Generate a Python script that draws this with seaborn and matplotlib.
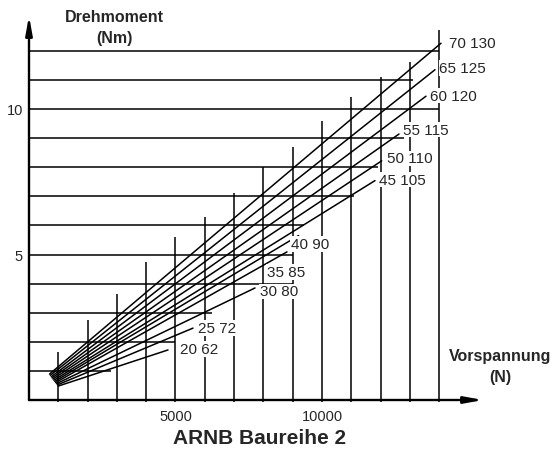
import matplotlib
matplotlib.use("Agg")
import matplotlib.pyplot as plt
import seaborn as sns
import pandas as pd

# ---------------- data ----------------
series = ["20 62", "25 72", "30 80", "35 85", "40 90", "45 105",
          "50 110", "55 115", "60 120", "65 125", "70 130"]
start_x = [1000, 970, 940, 910, 880, 850, 820, 790, 760, 730, 700]
start_y = [0.48, 0.52, 0.56, 0.60, 0.64, 0.68, 0.72, 0.76, 0.80, 0.85, 0.89]
end_x = [4744, 5597, 7713, 8805, 9200, 11809, 12038, 12628, 13549, 13857, 14061]
end_y = [1.72, 2.47, 3.85, 5.09, 5.65, 7.54, 8.22, 9.14, 10.44, 11.35, 12.26]

# horizontal guide lines (torque level, right end in N)
h_levels = [1, 2, 3, 4, 5, 6, 7, 8, 9, 10, 11, 12]
h_ends = [2800, 5000, 6250, 9000, 9000, 9400, 11100, 11900, 12800, 14000, 13100, 14000]
# vertical guide lines (force, top in Nm)
v_levels = [1000, 2000, 3000, 4000, 5000, 6000, 7000, 8000, 9000, 10000,
            11000, 12000, 13000, 14000]
v_tops = [1.65, 2.75, 3.64, 4.74, 5.6, 6.3, 7.1, 8.0, 8.7, 9.6, 10.4, 11.1, 11.6, 12.7]

x_ticks = [5000, 10000]
y_ticks = [5, 10]

# ---------------- style ----------------
sns.set_style("white")
plt.rcParams['font.family'] = ['Liberation Sans', 'DejaVu Sans']

# label offsets (points) relative to line ends
label_off_px = [(12, 1), (5.3, 0), (5, -3.3), (-20.3, -20.3), (-8, -8.4), (4.3, 1),
                (5, 2.4), (4.3, 4.3), (4, 0.6), (4.3, 1.7), (8, 0)]

W, H = 553, 452
fig = plt.figure(figsize=(W / 100, H / 100), dpi=100)
XMAX, YMAX = 15500, 13.2
ax = fig.add_axes([29 / W, 51 / H, (XMAX * 0.0293) / W, (YMAX * 29.1) / H])
ax.set_xlim(0, XMAX)
ax.set_ylim(0, YMAX)
for s in ax.spines.values():
    s.set_visible(False)

lw = 1.1
ax.hlines(h_levels, 0, h_ends, color="black", lw=lw, zorder=2)
ax.vlines(v_levels, -0.08, v_tops, color="black", lw=lw, zorder=2, clip_on=False)

rows = []
for name, sx, sy, ex, ey in zip(series, start_x, start_y, end_x, end_y):
    rows.append({"series": name, "F": sx, "T": sy})
    rows.append({"series": name, "F": ex, "T": ey})
df = pd.DataFrame(rows)
sns.lineplot(data=df, x="F", y="T", units="series", estimator=None, sort=False,
             color="black", lw=1.1, ax=ax, legend=False, zorder=3)

for name, ex, ey, (dx, dy) in zip(series, end_x, end_y, label_off_px):
    ax.annotate(name, xy=(ex, ey), xytext=(dx * 0.72, dy * 0.72),
                textcoords="offset points", ha="left", va="center",
                fontsize=11, zorder=6,
                bbox=dict(facecolor="white", edgecolor="none", pad=0.6))

# axes with arrows
arrow = dict(arrowstyle="-|>,head_length=1.1,head_width=0.2", lw=1.7, color="black",
             shrinkA=0, shrinkB=0)
ax.annotate("", xy=(XMAX, 0), xytext=(0, 0), arrowprops=arrow, annotation_clip=False, zorder=7)
ax.annotate("", xy=(0, YMAX), xytext=(0, 0), arrowprops=arrow, annotation_clip=False, zorder=7)

ax.set_xticks(x_ticks)
ax.set_xticklabels([str(v) for v in x_ticks])
ax.set_yticks(y_ticks)
ax.set_yticklabels([str(v) for v in y_ticks])
ax.tick_params(axis="x", length=0, pad=6.5, labelsize=10.5)
ax.tick_params(axis="y", length=0, pad=4.5, labelsize=10.5)
ax.set_xlabel("")
ax.set_ylabel("")

fig.text(114.5 / W, 1 - 17 / H, "Drehmoment", ha="center", va="center",
         fontsize=11.5, fontweight="bold")
fig.text(114.7 / W, 1 - 38 / H, "(Nm)", ha="center", va="center",
         fontsize=11.5, fontweight="bold")
fig.text(500.5 / W, 1 - 357 / H, "Vorspannung", ha="center", va="center",
         fontsize=11.5, fontweight="bold")
fig.text(500.7 / W, 1 - 378 / H, "(N)", ha="center", va="center",
         fontsize=11.5, fontweight="bold")
fig.text(260 / W, 1 - 439 / H, "ARNB Baureihe 2", ha="center", va="center",
         fontsize=15, fontweight="bold")

fig.savefig("out.png", dpi=100, facecolor="white")
